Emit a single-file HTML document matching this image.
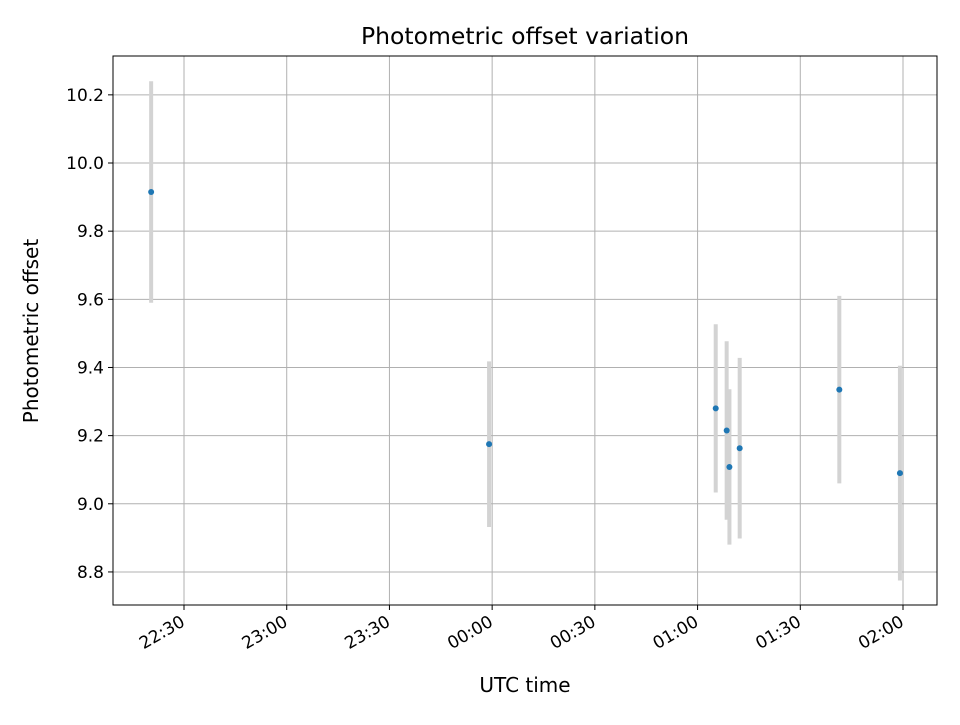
<!DOCTYPE html>
<html><head><meta charset="utf-8"><style>
body{margin:0;background:#fff}
svg text{font-family:"DejaVu Sans","Liberation Sans",sans-serif;fill:#000}
</style></head><body>
<svg id="chart" width="960" height="720" viewBox="0 0 960 720" xmlns="http://www.w3.org/2000/svg">
<rect width="960" height="720" fill="#fff"/>
<g id="grid"></g>
<g id="marks"></g>
<rect x="113" y="56" width="824" height="549" fill="none" stroke="#000" stroke-width="1"/>
<g id="axes"></g>
<text x="525" y="44" font-size="23.5" text-anchor="middle">Photometric offset variation</text>
<text x="525" y="692" font-size="20" text-anchor="middle">UTC time</text>
<text transform="translate(38,331) rotate(-90)" font-size="20" text-anchor="middle">Photometric offset</text>
</svg>
<script>
// times in minutes after 22:00 UTC
const times = [20.4, 119.1, 185.3, 188.5, 189.3, 192.3, 221.4, 239.1];
const offsets = [9.915, 9.175, 9.28, 9.215, 9.108, 9.163, 9.335, 9.09];
const errors = [0.325, 0.243, 0.247, 0.262, 0.228, 0.265, 0.275, 0.315];
const xTicks = [30, 60, 90, 120, 150, 180, 210, 240];
const xTickLabels = ["22:30","23:00","23:30","00:00","00:30","01:00","01:30","02:00"];
const yTicks = [8.8, 9.0, 9.2, 9.4, 9.6, 9.8, 10.0, 10.2];
const yTickLabels = ["8.8","9.0","9.2","9.4","9.6","9.8","10.0","10.2"];

const L=113,R=937,T=56,B=605;
const xMin=9.26,xMax=249.93,yMin=8.703,yMax=10.314;
const X=v=>L+(v-xMin)/(xMax-xMin)*(R-L);
const Y=v=>B-(v-yMin)/(yMax-yMin)*(B-T);
const NS="http://www.w3.org/2000/svg";
function mk(tag,attrs,parent){const e=document.createElementNS(NS,tag);for(const k in attrs)e.setAttribute(k,attrs[k]);parent.appendChild(e);return e;}
const grid=document.getElementById('grid'),axes=document.getElementById('axes'),marks=document.getElementById('marks');
xTicks.forEach((t,i)=>{
  const x=X(t);
  const g=mk('line',{x1:x,x2:x,y1:T,y2:B,stroke:'#b0b0b0','stroke-width':1},grid);
  
  
  const tk=mk('line',{x1:x,x2:x,y1:B,y2:B+5,stroke:'#000'},axes);
  
  
  const tx=mk('text',{transform:`translate(${x+2},${B+20}) rotate(-30)`,'font-size':17,'text-anchor':'end'},axes);
  tx.textContent=xTickLabels[i];
  
  
});
yTicks.forEach((t,i)=>{
  const y=Y(t);
  const g=mk('line',{x1:L,x2:R,y1:y,y2:y,stroke:'#b0b0b0','stroke-width':1},grid);
  
  
  const tk=mk('line',{x1:L-5,x2:L,y1:y,y2:y,stroke:'#000'},axes);
  
  
  const tx=mk('text',{x:L-9,y:y+6,'font-size':17,'text-anchor':'end'},axes);
  tx.textContent=yTickLabels[i];
  
  
});
times.forEach((t,i)=>{
  const x=X(t);
  const eb=mk('line',{x1:x,x2:x,y1:Y(offsets[i]+errors[i]),y2:Y(offsets[i]-errors[i]),stroke:'#d3d3d3','stroke-width':4},marks);
  
  
});
times.forEach((t,i)=>{
  const c=mk('circle',{cx:X(t),cy:Y(offsets[i]),r:3,fill:'#1f77b4'},marks);
  
  
});
</script>
</body></html>
